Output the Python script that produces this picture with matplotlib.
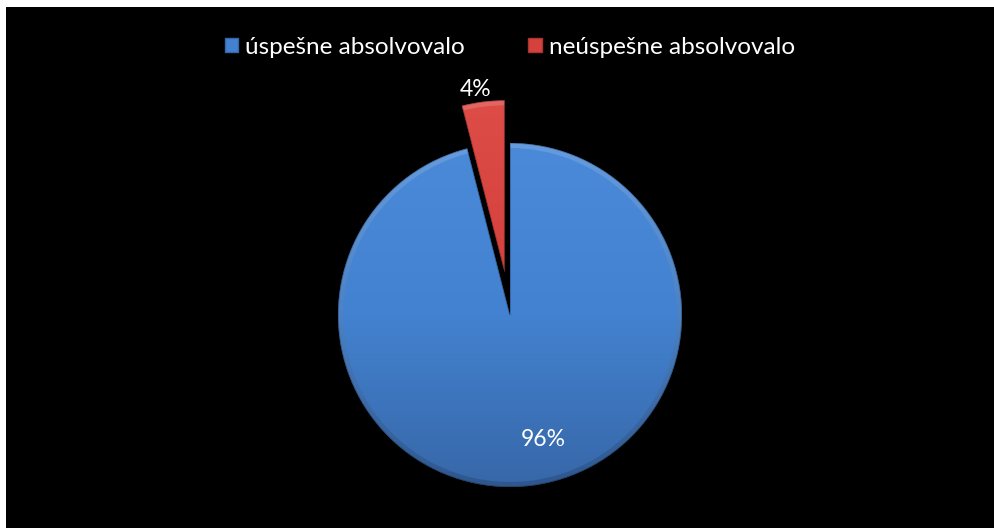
import numpy as np
import matplotlib
matplotlib.use("Agg")
import matplotlib.pyplot as plt
from matplotlib.patches import Patch, Wedge
from matplotlib.colors import LinearSegmentedColormap

# Data

labels = ["úspešne absolvovalo", "neúspešne absolvovalo"]
shares = [96, 4]

plt.rcParams["font.family"] = ["Lato", "DejaVu Sans"]

W, H = 995, 528
fig = plt.figure(figsize=(W / 100, H / 100), dpi=100)
fig.patch.set_facecolor("white")

# black chart area, 1 data unit = 1 pixel
ax = fig.add_axes([6 / W, 0, (W - 6) / W, (H - 7) / H])
ax.set_facecolor("black")

cx, cy, r = 510, H - 315, 172

colors = ["#4382d0", "#d5423e"]
dark = ["#3767a8", "#ab3431"]
light = ["#4a8ad9", "#de4c47"]

wedges, _ = ax.pie(
    shares,
    center=(cx, cy),
    radius=r,
    startangle=90,
    counterclock=False,
    explode=[0, 43],
    colors=colors,
    wedgeprops=dict(linewidth=0),
    frame=True,
)
ax.set_xlim(6, W)
ax.set_ylim(0, H - 7)
ax.set_aspect("equal")
ax.axis("off")
ax.add_patch(plt.Rectangle((6, 0), W - 6, H - 7, color="black", zorder=0))

# vertical gradient on each slice for the bevelled look
grad = np.linspace(1, 0, 256).reshape(-1, 1)
for i, w in enumerate(wedges):
    cmap = LinearSegmentedColormap.from_list("g", [dark[i], colors[i], light[i]])
    wx, wy = w.center
    im = ax.imshow(grad, cmap=cmap, extent=[wx - r, wx + r, wy - r, wy + r],
                   origin="upper", aspect="auto", zorder=2)
    im.set_clip_path(w)
    w.set_zorder(1)
    # soft rim, light on top and dark on bottom
    rim = ax.imshow(grad, cmap=LinearSegmentedColormap.from_list(
        "rim", ["#000000", "#ffffff"]), extent=[wx - r, wx + r, wy - r, wy + r],
        origin="upper", aspect="auto", alpha=0.16, zorder=3)
    ring = Wedge((wx, wy), r, w.theta1, w.theta2, width=5,
                 facecolor="none", linewidth=0)
    ax.add_patch(ring)
    rim.set_clip_path(ring)
    ax.add_patch(Wedge((wx, wy), r, w.theta1, w.theta2, facecolor="none",
                       edgecolor="#000000", alpha=0.3, linewidth=1.0, zorder=4))

# value labels
total = sum(shares)
ax.text(543, H - 440, f"{shares[0] / total * 100:.0f}%", color="white",
        fontsize=16.5, ha="center", va="center", zorder=5)
ax.text(476, H - 90, f"{shares[1] / total * 100:.0f}%", color="white",
        fontsize=16.5, ha="center", va="center", zorder=5)

handles = [Patch(facecolor=c, edgecolor=d) for c, d in zip(colors, dark)]
leg = fig.legend(
    handles, labels,
    loc="center",
    bbox_to_anchor=(510 / W, 1 - 47 / H),
    ncol=2,
    frameon=False,
    fontsize=17.5,
    labelcolor="white",
    handlelength=0.55,
    handleheight=0.55,
    handletextpad=0.3,
    columnspacing=2.6,
)

fig.savefig("out.png", dpi=100, facecolor=fig.get_facecolor())
